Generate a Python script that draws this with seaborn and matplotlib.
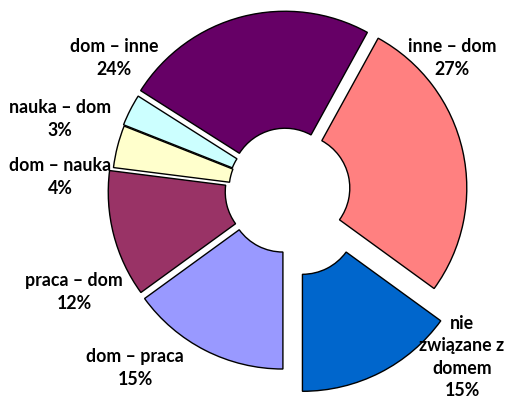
import matplotlib
matplotlib.use("Agg")
import matplotlib.pyplot as plt
import seaborn as sns

# Trip purposes (share of trips, %), clockwise from the top
labels = ["inne – dom", "nie\nzwiązane z\ndomem", "dom – praca", "praca – dom",
          "dom – nauka", "nauka – dom", "dom – inne"]
shares = [27, 15, 15, 12, 4, 3, 24]
colors = ["#FF8080", "#0066CC", "#9999FF", "#993366", "#FFFFCC", "#CCFFFF", "#660066"]

# layout in pixel units (figure is 509 x 402 px)
W, H = 509, 402
center = (287, H - 191)
radius = 171
hole = 54
explode = [9, 34, 9, 8, 4, 5, 8]
# label block centres (x, y from top)
label_pos = [(452, 58), (462, 357), (135, 368), (74, 292), (60, 177), (60, 119), (114, 58)]

sns.set_theme(style="white")
plt.rcParams["font.family"] = ["Lato", "DejaVu Sans"]

fig = plt.figure(figsize=(W / 100, H / 100), dpi=100)
ax = fig.add_axes([0, 0, 1, 1])

ax.pie(shares, colors=colors, explode=explode, center=center, radius=radius,
       startangle=61.2, counterclock=False,
       wedgeprops=dict(width=radius - hole, edgecolor="black", linewidth=1))

for lab, val, (x, y) in zip(labels, shares, label_pos):
    ax.text(x, H - y, f"{lab}\n{val}%", ha="center", va="center",
            fontsize=12.8, fontweight="bold", color="black", linespacing=1.4)

ax.set_xlim(0, W)
ax.set_ylim(0, H)
ax.set_aspect("equal")
ax.axis("off")

fig.savefig("out.png", dpi=100)
